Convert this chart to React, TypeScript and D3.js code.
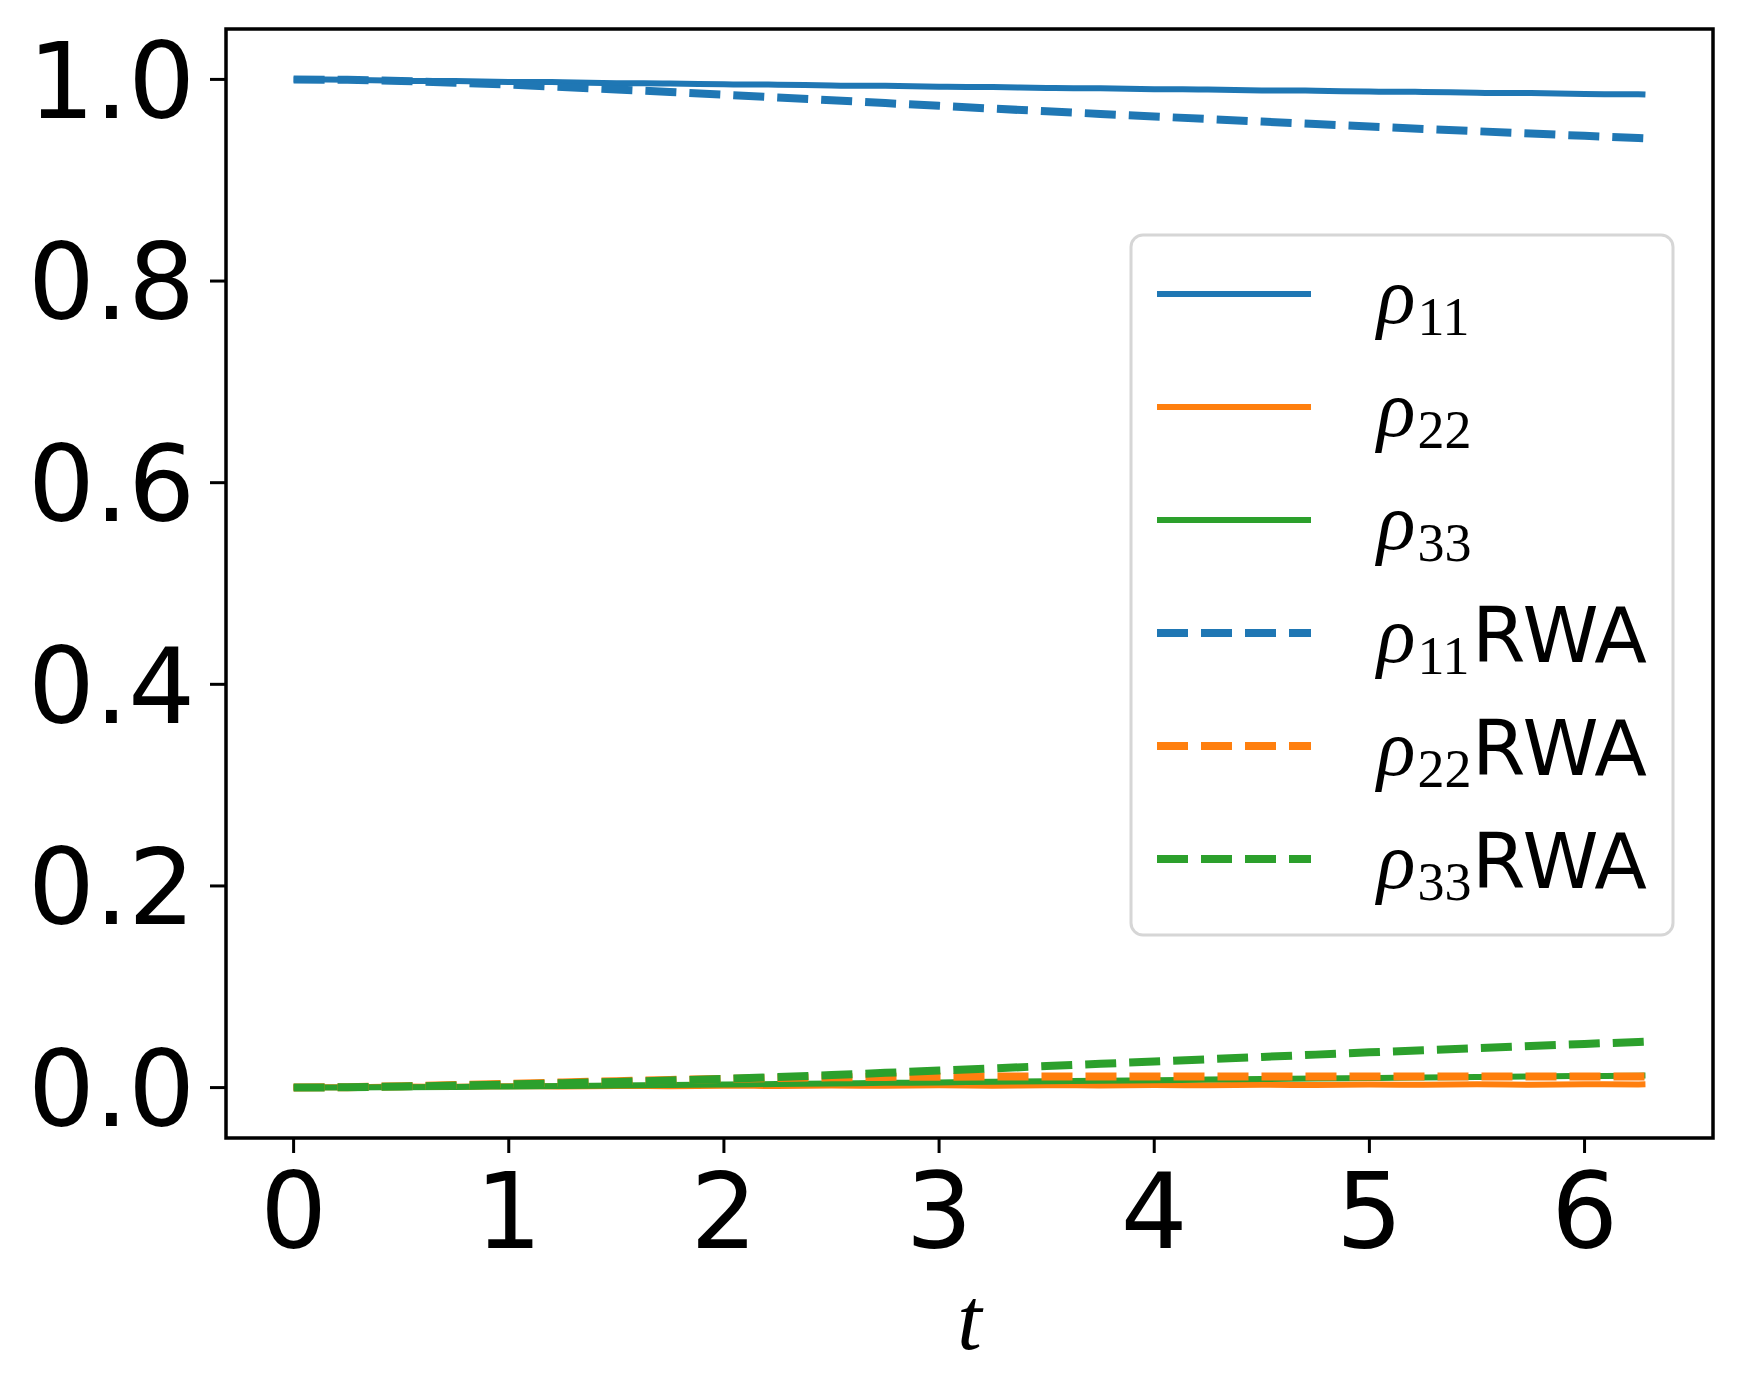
import React from "react";
import * as d3 from "d3";

// time grid (0 .. 2π)
const tValues = [0, 0.25, 0.5, 0.75, 1.0, 1.25, 1.5, 1.75, 2.0, 2.25, 2.5, 2.75, 3.0, 3.25, 3.5, 3.75, 4.0, 4.25, 4.5, 4.75, 5.0, 5.25, 5.5, 5.75, 6.0, 6.25, 6.283];

const rho11 = [1.0, 0.9996, 0.9986, 0.9984, 0.9975, 0.9973, 0.9962, 0.996, 0.9951, 0.9948, 0.9939, 0.9936, 0.9927, 0.9924, 0.9915, 0.9912, 0.9903, 0.99, 0.9891, 0.9888, 0.9879, 0.9876, 0.9867, 0.9864, 0.9855, 0.9852, 0.985];
const rho22 = [0, 0.0004, 0.001, 0.0009, 0.0014, 0.0012, 0.0017, 0.0014, 0.0019, 0.0016, 0.0021, 0.0018, 0.0023, 0.0019, 0.0024, 0.0021, 0.0026, 0.0023, 0.0028, 0.0025, 0.003, 0.0027, 0.0032, 0.0029, 0.0033, 0.0031, 0.0032];
const rho33 = [0, 0.0001, 0.0004, 0.0007, 0.0011, 0.0015, 0.0021, 0.0026, 0.003, 0.0036, 0.004, 0.0047, 0.0051, 0.0058, 0.0062, 0.0069, 0.0073, 0.008, 0.0084, 0.0091, 0.0095, 0.0101, 0.0105, 0.0111, 0.0115, 0.0118, 0.0119];
const rho11RWA = [1.0, 0.9996, 0.9985, 0.9968, 0.9948, 0.9925, 0.99, 0.9875, 0.9848, 0.982, 0.9793, 0.9765, 0.9738, 0.971, 0.9684, 0.9658, 0.9632, 0.9607, 0.9582, 0.9557, 0.9533, 0.9509, 0.9486, 0.9463, 0.944, 0.9418, 0.9415];
const rho22RWA = [0, 0.0004, 0.0013, 0.0025, 0.0038, 0.0051, 0.0064, 0.0076, 0.0087, 0.0096, 0.0102, 0.0106, 0.0108, 0.0109, 0.011, 0.011, 0.0111, 0.0111, 0.0111, 0.0111, 0.0111, 0.0111, 0.0111, 0.0111, 0.0111, 0.0111, 0.0111];
const rho33RWA = [0, 0.0003, 0.001, 0.002, 0.0031, 0.0043, 0.0056, 0.007, 0.0086, 0.0104, 0.0124, 0.0146, 0.0169, 0.0191, 0.0213, 0.0236, 0.0258, 0.0281, 0.0304, 0.0327, 0.035, 0.0371, 0.0392, 0.0413, 0.0433, 0.0453, 0.0456];

const xTicks = [0, 1, 2, 3, 4, 5, 6];
const yTicks = [0, 0.2, 0.4, 0.6, 0.8, 1.0];

const seriesValues = [rho11, rho22, rho33, rho11RWA, rho22RWA, rho33RWA];
const seriesSubscripts = ["11", "22", "33", "11", "22", "33"];
const seriesSuffix = ["", "", "", "RWA", "RWA", "RWA"];
const seriesColors = ["#1f77b4", "#ff7f0e", "#2ca02c", "#1f77b4", "#ff7f0e", "#2ca02c"];
const seriesDashed = [false, false, false, true, true, true];

const W = 1742, H = 1396;
const left = 226, right = 1713, top = 29, bottom = 1138;

export default function App() {
  const x = d3.scaleLinear().domain([-0.3142, 6.597]).range([left, right]);
  const y = d3.scaleLinear().domain([-0.05, 1.05]).range([bottom, top]);

  const lineGen = (vals: number[], dashed: boolean) =>
    d3.line<number>()
      .x((_, i) => x(tValues[i]))
      .y(d => y(d))
      .curve(dashed ? d3.curveLinear : d3.curveCatmullRom)(vals);

  // legend layout
  const lgX = 1131, lgY = 235, lgW = 542, lgH = 700;
  const rowY = (i: number) => 294 + i * 113;

  return (
    <svg width={W} height={H} style={{ position: "absolute", left: 0, top: 0, background: "#fff" }}>
      <rect x={0} y={0} width={W} height={H} fill="#fff" />

      {seriesValues.map((vals, i) => (
        <path key={i} d={lineGen(vals, seriesDashed[i]) || ""}
          fill="none" stroke={seriesColors[i]}
          strokeWidth={seriesDashed[i] ? 8 : 6}
          strokeDasharray={seriesDashed[i] ? "31,13" : undefined} />
      ))}

      {/* spines */}
      <rect x={left} y={top} width={right - left} height={bottom - top} fill="none" stroke="#000" strokeWidth={3.5} />

      {/* y axis */}
      {yTicks.map(v => (
        <g key={v}>
          <line x1={left - 16} x2={left} y1={y(v)} y2={y(v)} stroke="#000" strokeWidth={3} />
          <text x={195} y={y(v)} dy="0.365em" textAnchor="end"
            fontFamily="DejaVu Sans" fontSize={105}>{d3.format(".1f")(v)}</text>
        </g>
      ))}

      {/* x axis */}
      {xTicks.map(v => (
        <g key={v}>
          <line x1={x(v)} x2={x(v)} y1={bottom} y2={bottom + 15} stroke="#000" strokeWidth={3} />
          <text x={x(v)} y={1248} textAnchor="middle"
            fontFamily="DejaVu Sans" fontSize={105}>{v}</text>
        </g>
      ))}
      <text x={(left + right) / 2} y={1349} textAnchor="middle"
        fontFamily="Liberation Serif" fontStyle="italic" fontSize={88}>t</text>

      {/* legend */}
      <rect x={lgX} y={lgY} width={lgW} height={lgH} rx={12} ry={12}
        fill="#fff" fillOpacity={0.8} stroke="#d6d6d6" strokeWidth={3} />
      {seriesValues.map((_, i) => (
        <g key={i}>
          <line x1={1157} x2={1311} y1={rowY(i)} y2={rowY(i)}
            stroke={seriesColors[i]} strokeWidth={seriesDashed[i] ? 8 : 6}
            strokeDasharray={seriesDashed[i] ? "31,13" : undefined} />
          <text x={1377} y={rowY(i) + 29} fontFamily="Liberation Serif">
            <tspan fontStyle="italic" fontSize={80}>ρ</tspan>
            <tspan fontSize={54} dy={12} dx={2}>{seriesSubscripts[i]}</tspan>
          </text>
          {seriesSuffix[i] && (
            <text x={1472} y={rowY(i) + 29} fontFamily="DejaVu Sans" fontSize={77}>{seriesSuffix[i]}</text>
          )}
        </g>
      ))}
    </svg>
  );
}
